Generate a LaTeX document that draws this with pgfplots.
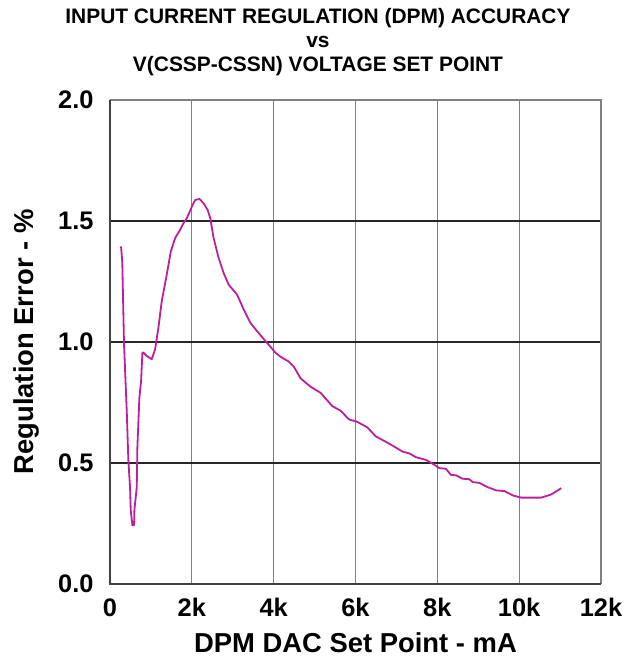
\documentclass[border=0pt]{standalone}
\usepackage{pgfplots}
\pgfplotsset{compat=1.18}
\usepackage{fontspec}
\setmainfont{Liberation Sans}
\definecolor{curve}{RGB}{190,30,155}
\definecolor{vgrid}{RGB}{128,128,128}
\begin{document}
\begin{tikzpicture}
\useasboundingbox (0,0) rectangle (636bp,662bp);
\begin{axis}[
  at={(110bp,78bp)}, anchor=south west,
  width=491bp, height=484bp, scale only axis,
  xmin=0, xmax=12000, ymin=0, ymax=2,
  scaled x ticks=false,
  xtick={0,2000,4000,6000,8000,10000,12000},
  xticklabels={0,2k,4k,6k,8k,10k,12k},
  ytick={0,0.5,1,1.5,2},
  yticklabels={0.0,0.5,1.0,1.5,2.0},
  tick style={draw=none},
  ticklabel style={font=\fontsize{25.5}{28}\selectfont\bfseries},
  xticklabel style={yshift=-11bp},
  yticklabel style={xshift=-13bp},
  axis line style={draw=none},
  grid=none,
  xlabel={DPM DAC Set Point - mA},
  ylabel={Regulation Error - \%},
  label style={font=\fontsize{27.5}{30}\selectfont\bfseries},
  xlabel style={yshift=-11bp, inner sep=1bp},
  ylabel style={yshift=12bp},
  clip=false,
]
% grid
\addplot[vgrid, line width=1bp, forget plot] coordinates {(2000,0) (2000,2)};
\addplot[vgrid, line width=1bp, forget plot] coordinates {(4000,0) (4000,2)};
\addplot[vgrid, line width=1bp, forget plot] coordinates {(6000,0) (6000,2)};
\addplot[vgrid, line width=1bp, forget plot] coordinates {(8000,0) (8000,2)};
\addplot[vgrid, line width=1bp, forget plot] coordinates {(10000,0) (10000,2)};
\addplot[black!85, line width=1.3bp, forget plot] coordinates {(0,0.5) (12000,0.5)};
\addplot[black!85, line width=1.3bp, forget plot] coordinates {(0,1.0) (12000,1.0)};
\addplot[black!85, line width=1.3bp, forget plot] coordinates {(0,1.5) (12000,1.5)};
% frame
\addplot[black!50, line width=2bp, forget plot] coordinates {(0,2) (12000,2) (12000,0)};
\addplot[black!75, line width=1.3bp, forget plot] coordinates {(0,2) (0,0) (12000,0)};
% data
\addplot[curve, line width=1.8bp, line join=round] coordinates {
(270,1.395) (300,1.33) (343,0.99) (409,0.716) (449,0.51) (490,0.40) (507,0.305)
(547,0.243) (588,0.243) (596,0.305) (654,0.40) (669,0.565) (718,0.77) (760,0.84)
(792,0.956) (816,0.956) (899,0.942) (1021,0.929) (1103,0.97) (1184,1.06)
(1266,1.17) (1389,1.28) (1487,1.375) (1593,1.43) (1716,1.464) (1797,1.491)
(1880,1.512) (2002,1.56) (2083,1.587) (2190,1.591) (2287,1.573) (2385,1.546)
(2451,1.512) (2532,1.43) (2655,1.347) (2777,1.285) (2900,1.237) (3105,1.196)
(3268,1.134) (3431,1.079) (3595,1.045) (3799,1.004) (4044,0.956) (4167,0.939)
(4370,0.919) (4493,0.898) (4657,0.85) (4902,0.815) (5147,0.79) (5433,0.735)
(5637,0.716) (5841,0.68) (6046,0.67) (6291,0.647) (6495,0.61) (6781,0.584)
(6944,0.568) (7149,0.547) (7312,0.54) (7475,0.524) (7721,0.513) (7884,0.497)
(8047,0.479) (8211,0.476) (8333,0.451) (8456,0.449) (8619,0.435) (8783,0.433)
(8865,0.421) (9027,0.418) (9232,0.40) (9436,0.387) (9640,0.384) (9845,0.366)
(10049,0.357) (10300,0.357) (10539,0.357) (10784,0.37) (11029,0.396)
};
\end{axis}
\node[font=\fontsize{21}{24.2}\selectfont\bfseries, align=center, anchor=north, inner sep=0pt] at (318bp,654bp)
  {INPUT CURRENT REGULATION (DPM) ACCURACY\\
   vs\\
   V(CSSP-CSSN) VOLTAGE SET POINT};
\end{tikzpicture}
\end{document}
